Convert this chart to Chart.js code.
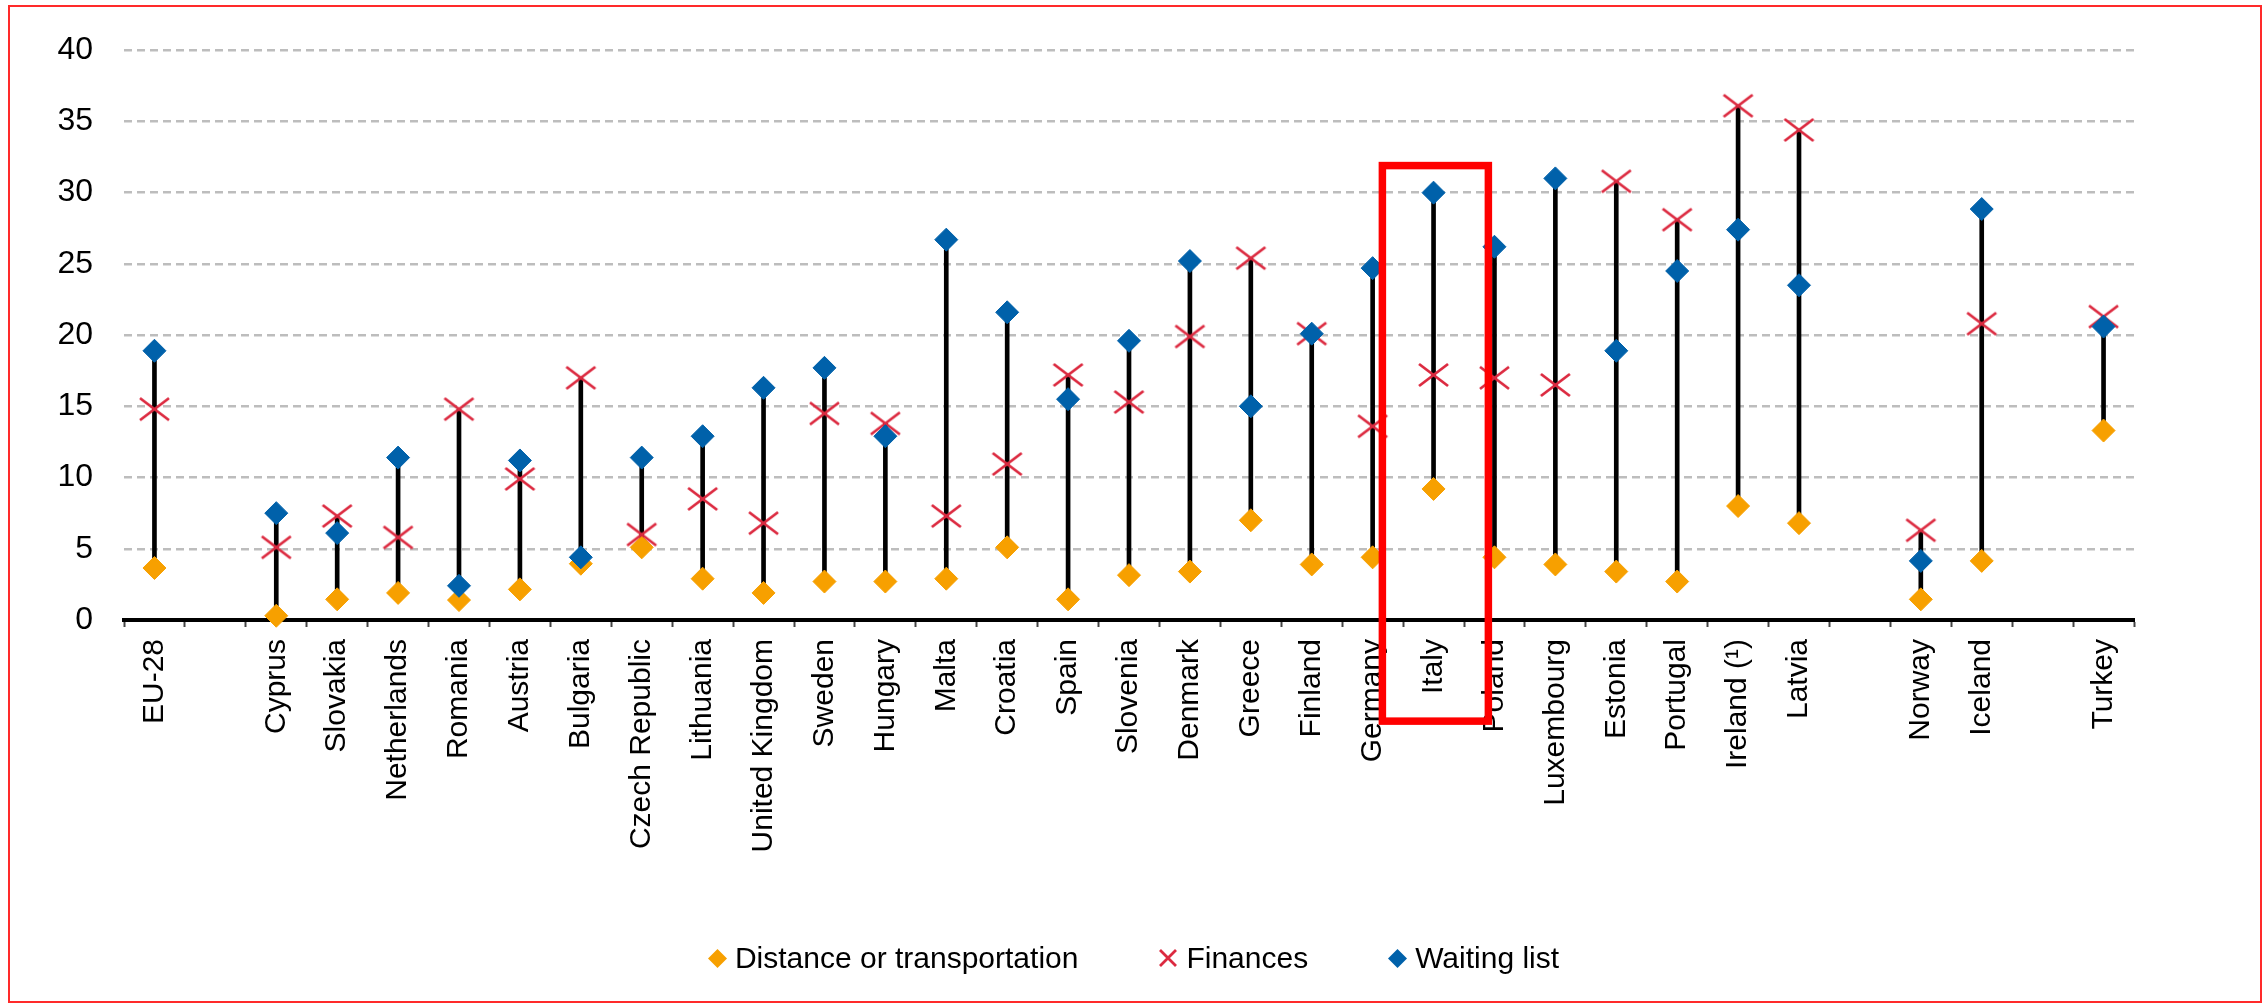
<!DOCTYPE html>
<html lang="en">
<head>
<meta charset="UTF-8">
<title>Unmet needs for medical care - reasons</title>
<style>
    body {
        margin: 0;
        padding: 0;
        background: #fff;
        overflow: hidden;
        font-family: "Liberation Sans", Arial, sans-serif;
    }
    #chart {
        position: absolute;
        left: 0;
        top: 0;
    }
    .frame {
        position: absolute;
        left: 8px;
        top: 5px;
        width: 2250px;
        height: 994px;
        border: 2px solid #ff2a2a;
        pointer-events: none;
    }
    .legend {
        position: absolute;
        left: 0;
        top: 938px;
        width: 2267px;
        height: 40px;
        display: flex;
        justify-content: center;
        align-items: center;
        font-size: 30px;
        color: #000;
    }
    .legend .item { display: flex; align-items: center; }
    .legend .item + .item { margin-left: 80px; }
    .legend svg { margin-right: 8px; }
</style>
</head>
<body>
<canvas id="chart" width="2267" height="1007"></canvas>
<div class="legend" id="legend"></div>
<div class="frame"></div>

<script src="https://cdn.jsdelivr.net/npm/chart.js@4"></script>
<script>
    // categories ('' = empty slot between groups)
    const countries = ['EU-28', '', 'Cyprus', 'Slovakia', 'Netherlands', 'Romania', 'Austria', 'Bulgaria',
        'Czech Republic', 'Lithuania', 'United Kingdom', 'Sweden', 'Hungary', 'Malta', 'Croatia', 'Spain',
        'Slovenia', 'Denmark', 'Greece', 'Finland', 'Germany', 'Italy', 'Poland', 'Luxembourg', 'Estonia',
        'Portugal', 'Ireland (¹)', 'Latvia', '', 'Norway', 'Iceland', '', 'Turkey'];

    const distance = [3.65, null, 0.3, 1.45, 1.9, 1.4, 2.15, 3.95, 5.1, 2.9, 1.9, 2.7, 2.7, 2.9, 5.1, 1.45,
        3.15, 3.4, 7.0, 3.9, 4.4, 9.2, 4.4, 3.9, 3.4, 2.7, 8.0, 6.8, null, 1.45, 4.15, null, 13.3];
    const finances = [14.8, null, 5.1, 7.3, 5.8, 14.8, 9.9, 17.0, 6.0, 8.5, 6.8, 14.5, 13.8, 7.3, 10.95, 17.2,
        15.3, 19.9, 25.4, 20.1, 13.6, 17.2, 17.0, 16.5, 30.8, 28.1, 36.1, 34.4, null, 6.3, 20.8, null, 21.3];
    const waiting = [18.9, null, 7.5, 6.1, 11.4, 2.4, 11.2, 4.4, 11.4, 12.9, 16.3, 17.7, 12.9, 26.7, 21.6, 15.5,
        19.6, 25.2, 15.0, 20.1, 24.7, 30.0, 26.2, 31.0, 18.9, 24.5, 27.4, 23.5, null, 4.15, 28.85, null, 20.6];

    const yTicks = [0, 5, 10, 15, 20, 25, 30, 35, 40];

    // highlighted country box
    const boxCountry = 'Italy';
    const boxTopValue = 31.9;
    const boxBottomValue = -7.1;

    const ORANGE = '#f7a000';
    const RED = '#dc2a40';
    const BLUE = '#0061aa';

    // vertical line from lowest to highest of the three values
    const ranges = countries.map((c, i) => {
        const v = [distance[i], finances[i], waiting[i]].filter(x => x != null);
        return v.length ? [Math.min(...v), Math.max(...v)] : null;
    });

    function makeCross(w, h, color, lw) {
        const c = document.createElement('canvas');
        c.width = w;
        c.height = h;
        const g = c.getContext('2d');
        g.strokeStyle = color;
        g.lineWidth = lw;
        g.beginPath();
        g.moveTo(2, 2); g.lineTo(w - 2, h - 2);
        g.moveTo(w - 2, 2); g.lineTo(2, h - 2);
        g.stroke();
        return c;
    }
    const crossMark = makeCross(33, 26, RED, 2.8);

    const highlightBox = {
        id: 'highlightBox',
        afterDraw(chart) {
            const x = chart.scales.x, y = chart.scales.y;
            const i = countries.indexOf(boxCountry);
            const step = x.getPixelForValue(1) - x.getPixelForValue(0);
            const cx = x.getPixelForValue(i);
            const ctx = chart.ctx;
            ctx.save();
            ctx.strokeStyle = '#ff0000';
            ctx.lineWidth = 7.5;
            ctx.strokeRect(cx - 0.84 * step, y.getPixelForValue(boxTopValue),
                1.74 * step, y.getPixelForValue(boxBottomValue) - y.getPixelForValue(boxTopValue));
            ctx.restore();
        }
    };

    Chart.defaults.font.family = '"Liberation Sans", Arial, sans-serif';
    Chart.defaults.color = '#000';

    const chart = new Chart(document.getElementById('chart').getContext('2d'), {
        type: 'bar',
        data: {
            labels: countries,
            datasets: [
                {
                    type: 'line',
                    label: 'Distance or transportation',
                    data: distance,
                    showLine: false,
                    pointStyle: 'rectRot',
                    pointRadius: 11.5,
                    pointBorderWidth: 1,
                    pointBackgroundColor: ORANGE,
                    pointBorderColor: ORANGE,
                    order: 3,
                    clip: false
                },
                {
                    type: 'line',
                    label: 'Finances',
                    data: finances,
                    showLine: false,
                    pointStyle: crossMark,
                    pointRadius: 13,
                    order: 2,
                    clip: false
                },
                {
                    type: 'line',
                    label: 'Waiting list',
                    data: waiting,
                    showLine: false,
                    pointStyle: 'rectRot',
                    pointRadius: 11.5,
                    pointBorderWidth: 1,
                    pointBackgroundColor: BLUE,
                    pointBorderColor: BLUE,
                    order: 1,
                    clip: false
                },
                {
                    type: 'bar',
                    label: 'range',
                    data: ranges,
                    backgroundColor: '#000',
                    barThickness: 4,
                    order: 10
                }
            ]
        },
        options: {
            responsive: false,
            animation: false,
            events: [],
            layout: { padding: { left: 8, top: 30, right: 133, bottom: 147 } },
            plugins: {
                legend: { display: false },
                tooltip: { enabled: false }
            },
            scales: {
                x: {
                    afterFit: s => { s.height = 240; },
                    grid: {
                        offset: true,
                        drawOnChartArea: false,
                        drawTicks: true,
                        tickLength: 7,
                        tickColor: '#444',
                        tickWidth: 2
                    },
                    border: { display: true, color: '#000', width: 4 },
                    ticks: {
                        autoSkip: false,
                        maxRotation: 90,
                        minRotation: 90,
                        padding: 12,
                        font: { size: 30 }
                    }
                },
                y: {
                    min: 0,
                    max: 40,
                    afterFit: s => { s.width = 116; },
                    afterBuildTicks: s => { s.ticks = yTicks.map(v => ({ value: v })); },
                    grid: {
                        drawTicks: false,
                        lineWidth: 2.5,
                        color: c => c.tick && c.tick.value === 0 ? 'rgba(0,0,0,0)' : '#bdbdbd'
                    },
                    border: { display: false, dash: [8, 5] },
                    ticks: {
                        padding: 31,
                        font: { size: 32 }
                    }
                }
            }
        },
        plugins: [highlightBox]
    });

    // legend below the chart, built from the datasets
    const legendEl = document.getElementById('legend');
    const marks = {
        diamond: col => `<svg width="19" height="19"><polygon points="9.5,0 19,9.5 9.5,19 0,9.5" fill="${col}"/></svg>`,
        cross: col => `<svg width="20" height="20"><path d="M2 2L18 18M18 2L2 18" stroke="${col}" stroke-width="2.8"/></svg>`
    };
    chart.data.datasets.slice(0, 3).forEach(ds => {
        const item = document.createElement('div');
        item.className = 'item';
        const mark = ds.pointStyle === 'rectRot' ? marks.diamond(ds.pointBackgroundColor) : marks.cross(RED);
        item.innerHTML = mark + '<span>' + ds.label + '</span>';
        legendEl.appendChild(item);
    });
</script>
</body>
</html>
